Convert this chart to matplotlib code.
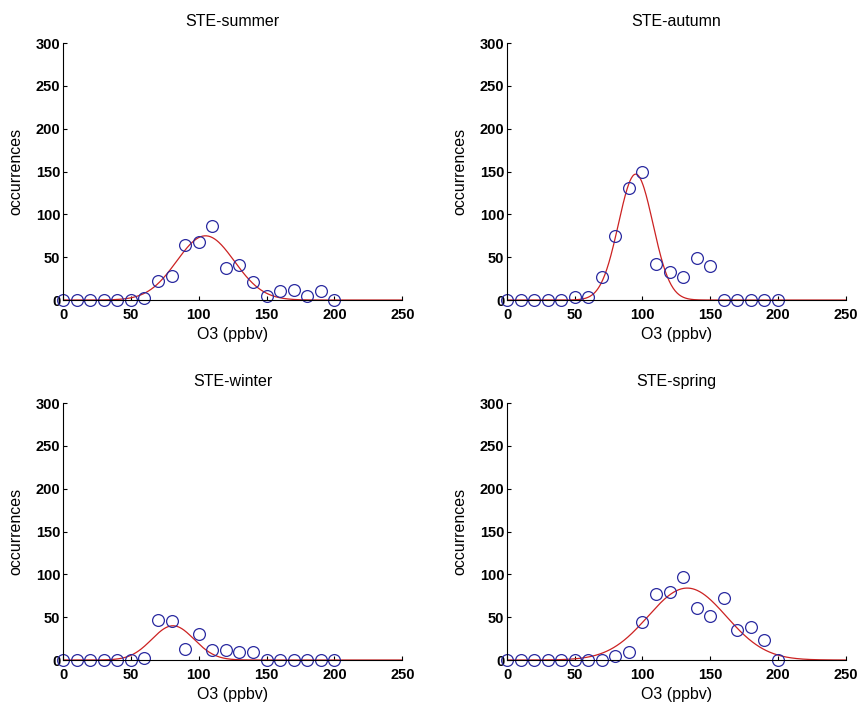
import numpy as np
import matplotlib
matplotlib.use("Agg")
import matplotlib.pyplot as plt

plt.rcParams['font.family'] = ['Liberation Sans', 'DejaVu Sans']

o3 = np.arange(0, 201, 10)

summer = [0, 0, 0, 0, 0, 0, 2, 22, 28, 64, 68, 87, 37, 41, 21, 5, 11, 12, 5, 11, 0]
autumn = [0, 0, 0, 0, 0, 3, 3, 27, 75, 131, 150, 42, 33, 27, 49, 40, 0, 0, 0, 0, 0]
winter = [0, 0, 0, 0, 0, 0, 2, 47, 45, 13, 30, 12, 12, 9, 9, 0, 0, 0, 0, 0, 0]
spring = [0, 0, 0, 0, 0, 0, 0, 0, 5, 9, 44, 77, 80, 97, 61, 51, 73, 35, 38, 23, 0]

# gaussian fit params (amplitude, centre, width) : a*exp(-((x-b)/c)^2)
fit_summer = (75, 105, 30)
fit_autumn = (147, 95, 18)
fit_winter = (40, 81, 22)
fit_spring = (84, 133, 41)

titles = ["STE-summer", "STE-autumn", "STE-winter", "STE-spring"]
series = [summer, autumn, winter, spring]
fits = [fit_summer, fit_autumn, fit_winter, fit_spring]

positions = [
    [0.0732, 0.5726, 0.394, 0.366],
    [0.589, 0.5726, 0.393, 0.366],
    [0.0732, 0.0598, 0.394, 0.366],
    [0.589, 0.0598, 0.393, 0.366],
]

fig = plt.figure(figsize=(8.61, 7.02), dpi=100)
xf = np.linspace(0, 250, 500)

for pos, title, y, (a, b, c) in zip(positions, titles, series, fits):
    ax = fig.add_axes(pos)
    ax.plot(xf, a * np.exp(-((xf - b) / c) ** 2), color='#cc2222', lw=0.9)
    ax.plot(o3, y, 'o', mfc='none', mec='#2a2aa0', ms=8.5, mew=0.9, clip_on=False)
    ax.set_xlim(0, 250)
    ax.set_ylim(0, 300)
    ax.set_xticks(range(0, 251, 50))
    ax.set_yticks(range(0, 301, 50))
    ax.spines['top'].set_visible(False)
    ax.spines['right'].set_visible(False)
    ax.tick_params(direction='in', length=3, labelsize=10.5)
    ax.tick_params(axis='x', pad=6)
    ax.tick_params(axis='y', pad=2)
    for lab in ax.get_xticklabels() + ax.get_yticklabels():
        lab.set_fontweight('bold')
    ax.set_title(title, fontsize=11.5, pad=12)
    ax.set_xlabel("O3 (ppbv)", fontsize=11.5, labelpad=3)
    ax.set_ylabel("occurrences", fontsize=11.5, labelpad=9)

fig.savefig("out.png", dpi=100)
